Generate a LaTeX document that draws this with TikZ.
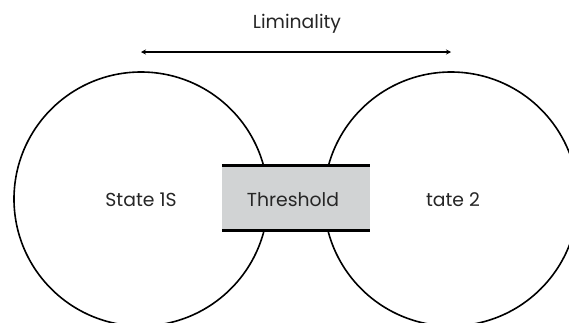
\documentclass[tikz,border=0pt]{standalone}
\usepackage{fontspec}
\setmainfont{Poppins}
\usetikzlibrary{arrows.meta}
\definecolor{boxgray}{HTML}{D1D3D4}
\tikzset{
  lbl/.style={font=\fontsize{18.8}{22}\selectfont, text=black!85},
  statecircle/.style={circle, draw=black, line width=1.6pt, minimum size=254pt, inner sep=0pt},
  threshbox/.style={rectangle, fill=boxgray, minimum width=148pt, minimum height=64pt, inner sep=0pt},
  edgeline/.style={line width=3pt, black},
  liminal/.style={line width=1.5pt, {Stealth[length=5pt,width=5pt]}-{Stealth[length=5pt,width=5pt]}}
}
\begin{document}
\begin{tikzpicture}[x=1pt,y=-1pt]
\useasboundingbox (0,0) rectangle (569,322);
\clip (0,0) rectangle (569,322);
\fill[white] (0,0) rectangle (569,322);
\node[statecircle] (s1) at (141,199) {};
\node[statecircle] (s2) at (451,199) {};
\node[threshbox] (th) at (296,198) {};
\draw[edgeline] (th.north west) -- (th.north east);
\draw[edgeline] (th.south west) -- (th.south east);
\node[lbl] (t1) at (141,200) {State 1S};
\node[lbl] (t2) at (453,200) {tate 2};
\node[lbl] (tt) at (293,200) {Threshold};
\node[lbl] (lim) at (297,24) {Liminality};
\coordinate (aL) at (141,52);
\coordinate (aR) at (451,52);
\draw[liminal] (aL) -- (aR);
\end{tikzpicture}
\end{document}
